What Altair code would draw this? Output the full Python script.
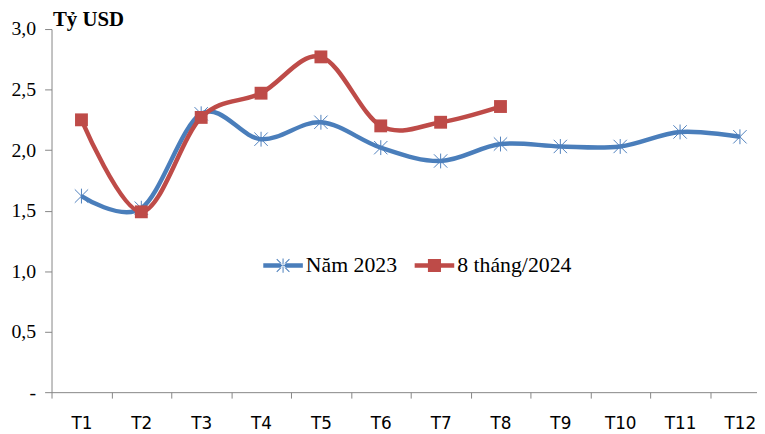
import altair as alt
import pandas as pd
import math

months = ["T1", "T2", "T3", "T4", "T5", "T6", "T7", "T8", "T9", "T10", "T11", "T12"]
series = ["Năm 2023", "8 tháng/2024"]
values_2023 = [1.62, 1.52, 2.30, 2.09, 2.23, 2.02, 1.91, 2.05, 2.03, 2.03, 2.15, 2.11]
values_2024 = [2.25, 1.49, 2.27, 2.47, 2.77, 2.20, 2.23, 2.36]
y_ticks = [0, 0.5, 1.0, 1.5, 2.0, 2.5, 3.0]

BLUE = "#4a7ebb"
BLUE_MK = "#4f81bd"
RED = "#be4b48"
GRAY = "#868686"
SERIF = "Liberation Serif, Times New Roman, serif"

rows = []
for m, v in zip(months, values_2023):
    rows.append({"month": m, "series": series[0], "value": v})
for m, v in zip(months, values_2024):
    rows.append({"month": m, "series": series[1], "value": v})
df = pd.DataFrame(rows)

# marker shapes
asterisk = "M0,-1L0,1M-0.9,-0.9L0.9,0.9M-0.9,0.9L0.9,-0.9"

def thin(x1, y1, x2, y2, h):
    dx, dy = x2 - x1, y2 - y1
    L = math.hypot(dx, dy)
    nx, ny = -dy / L * h, dx / L * h
    return "M{:.4f},{:.4f}L{:.4f},{:.4f}L{:.4f},{:.4f}L{:.4f},{:.4f}Z".format(
        x1 + nx, y1 + ny, x2 + nx, y2 + ny, x2 - nx, y2 - ny, x1 - nx, y1 - ny)

leg_line = "M-1,-0.11L1,-0.11L1,0.11L-1,0.11Z"
leg_ast = leg_line + thin(0, -0.36, 0, 0.36, 0.025) + thin(-0.32, -0.32, 0.32, 0.32, 0.025) + thin(-0.32, 0.32, 0.32, -0.32, 0.025)
leg_sq = leg_line + "M-0.33,-0.33L0.33,-0.33L0.33,0.33L-0.33,0.33Z"

x_enc = alt.X(
    "month:N",
    sort=months,
    scale=alt.Scale(type="band", domain=months, range=[0, 726], paddingInner=0, paddingOuter=0),
    axis=alt.Axis(
        title=None, tickBand="extent", labelAngle=0, grid=False,
        domainColor=GRAY, tickColor=GRAY, tickSize=6, domainWidth=1, tickWidth=1,
        labelFont="DejaVu Sans", labelFontSize=17, labelColor="black", labelPadding=18,
    ),
)
y_enc = alt.Y(
    "value:Q",
    scale=alt.Scale(domain=[0, 3], nice=False, zero=True),
    axis=alt.Axis(
        values=y_ticks, grid=False,
        labelExpr="datum.value == 0 ? '-\u00a0\u00a0' : replace(format(datum.value, '.1f'), '.', ',')",
        labelFont=SERIF, labelFontSize=20, labelColor="black", labelPadding=9,
        domainColor=GRAY, tickColor=GRAY, tickSize=7, domainWidth=1, tickWidth=1,
        title="Tỷ USD", titleAngle=0, titleX=1, titleY=-4, titleAlign="left",
        titleBaseline="alphabetic", titleFont=SERIF, titleFontSize=21,
        titleFontWeight="bold", titleColor="black",
    ),
)

base = alt.Chart(df)

line23 = base.transform_filter(alt.datum.series == series[0]).mark_line(
    color=BLUE, strokeWidth=4.5, interpolate="cardinal"
).encode(x=x_enc, y=y_enc)
pts23 = base.transform_filter(alt.datum.series == series[0]).mark_point(
    shape=asterisk, size=225, filled=False, strokeWidth=1, color=BLUE_MK, opacity=1
).encode(x=x_enc, y=y_enc)
line24 = base.transform_filter(alt.datum.series == series[1]).mark_line(
    color=RED, strokeWidth=4.5, interpolate="cardinal"
).encode(x=x_enc, y=y_enc)
pts24 = base.transform_filter(alt.datum.series == series[1]).mark_point(
    shape="square", size=169, filled=True, color=RED, opacity=1
).encode(x=x_enc, y=y_enc)

leg_kwargs = dict(
    orient="none", legendX=214, legendY=219, direction="horizontal", title=None,
    symbolSize=1600, symbolStrokeWidth=0, symbolOpacity=1,
    labelFont=SERIF, labelFontSize=22, labelColor="black",
    labelOffset=3, columnPadding=17,
)
legend_layer = base.transform_filter("false").mark_point(filled=True, opacity=1).encode(
    x=x_enc, y=y_enc,
    color=alt.Color("series:N", scale=alt.Scale(domain=series, range=[BLUE, RED]),
                    legend=alt.Legend(**leg_kwargs)),
    shape=alt.Shape("series:N", scale=alt.Scale(domain=series, range=[leg_ast, leg_sq]),
                    legend=alt.Legend(**leg_kwargs)),
)

chart = alt.layer(line23, pts23, line24, pts24, legend_layer).properties(
    width=713, height=367,
    padding={"left": 44, "top": 19, "right": 0, "bottom": 40},
    autosize=alt.AutoSizeParams(type="none"),
    background="white",
).configure_view(stroke=None).configure_axisY(
    labelFont=SERIF, titleFont=SERIF
)

chart.save("out.html", embed_options={"renderer": "svg", "actions": False})
